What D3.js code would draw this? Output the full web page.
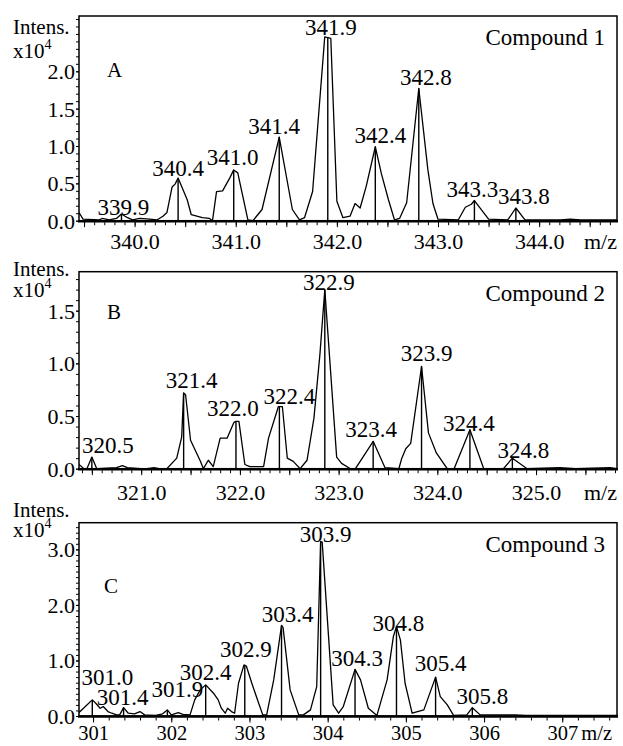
<!DOCTYPE html>
<html>
<head>
<meta charset="utf-8">
<script src="https://cdn.jsdelivr.net/npm/d3@7"></script>
<style>
  body { margin: 0; background: #fff; }
  svg text { font-family: "Liberation Serif", "Times New Roman", serif; fill: #000; }
</style>
</head>
<body>
<svg id="chart" width="623" height="746"></svg>
<script>
// ====================================
// Données
// ====================================

// Compound 1 : profil [m/z, intensité x10^4]
const traceA = [
  [339.45,0.11],[339.49,0.02],[339.65,0.01],[339.68,0.03],[339.75,0.01],[339.82,0.03],
  [339.87,0.09],[339.93,0.04],[339.98,0.01],[340.05,0.03],[340.15,0.02],[340.22,0.01],
  [340.28,0.06],[340.32,0.11],[340.37,0.45],[340.40,0.49],[340.43,0.57],[340.52,0.28],
  [340.56,0.08],[340.67,0.04],[340.74,0.03],[340.77,0.00],[340.81,0.39],[340.87,0.40],
  [340.94,0.57],[340.98,0.68],[341.02,0.64],[341.12,0.01],[341.17,0.00],[341.26,0.15],
  [341.43,1.12],[341.56,0.15],[341.63,0.01],[341.68,0.04],[341.76,0.39],[341.88,2.46],
  [341.94,2.44],[342.00,0.26],[342.06,0.04],[342.13,0.06],[342.18,0.23],[342.23,0.17],
  [342.29,0.46],[342.38,0.99],[342.44,0.63],[342.51,0.28],[342.57,0.01],[342.62,0.03],
  [342.69,0.24],[342.81,1.77],[342.90,0.68],[342.95,0.23],[343.00,0.02],[343.20,0.01],
  [343.27,0.18],[343.33,0.22],[343.36,0.27],[343.50,0.02],[343.69,0.01],[343.77,0.17],
  [343.86,0.01],[344.21,0.01],[344.31,0.02],[344.41,0.01],[344.77,0.01]
];
// pics annotés [m/z, intensité, étiquette]
const peaksA = [
  [339.87,0.09,"339.9"],[340.43,0.57,"340.4"],[340.98,0.68,"341.0"],[341.43,1.12,"341.4"],
  [341.91,2.46,"341.9"],[342.38,0.99,"342.4"],[342.81,1.77,"342.8"],[343.36,0.27,"343.3"],
  [343.77,0.17,"343.8"]
];
const xDomainA = [339.45, 344.77];
const yMaxA = 2.74;
const xTicksA = [340, 341, 342, 343, 344];
const yTicksA = [0, 0.5, 1.0, 1.5, 2.0];

// Compound 2
const traceB = [
  [320.37,0.04],[320.42,0.00],[320.45,0.00],[320.50,0.11],[320.55,0.00],[320.75,0.01],
  [320.81,0.03],[320.86,0.01],[320.99,0.00],[321.06,0.00],[321.13,0.01],[321.18,0.00],
  [321.26,0.00],[321.36,0.10],[321.41,0.30],[321.43,0.72],[321.45,0.70],[321.50,0.27],
  [321.60,0.07],[321.63,0.00],[321.68,0.08],[321.73,0.02],[321.80,0.29],[321.87,0.29],
  [321.94,0.44],[321.96,0.45],[321.99,0.45],[322.05,0.04],[322.10,0.02],[322.24,0.02],
  [322.29,0.29],[322.39,0.59],[322.43,0.59],[322.48,0.10],[322.54,0.07],[322.61,0.00],
  [322.68,0.08],[322.75,0.48],[322.81,1.08],[322.86,1.70],[322.98,0.11],[323.03,0.05],
  [323.12,0.00],[323.17,0.00],[323.24,0.10],[323.35,0.26],[323.47,0.01],[323.61,0.00],
  [323.64,0.10],[323.68,0.19],[323.73,0.24],[323.84,0.97],[323.91,0.34],[323.99,0.15],
  [324.10,0.00],[324.17,0.00],[324.33,0.37],[324.47,0.00],[324.67,0.00],[324.76,0.10],
  [324.91,0.00],[325.24,0.01],[325.40,0.00],[325.75,0.01],[325.82,0.00]
];
const peaksB = [
  [320.50,0.11,"320.5"],[321.43,0.72,"321.4"],[321.96,0.45,"322.0"],[322.40,0.59,"322.4"],
  [322.86,1.70,"322.9"],[323.35,0.26,"323.4"],[323.84,0.97,"323.9"],[324.33,0.37,"324.4"],
  [324.76,0.10,"324.8"]
];
const xDomainB = [320.37, 325.82];
const yMaxB = 1.87;
const xTicksB = [321, 322, 323, 324, 325];
const yTicksB = [0, 0.5, 1.0, 1.5];

// Compound 3
const traceC = [
  [300.81,0.05],[300.99,0.29],[301.04,0.22],[301.09,0.14],[301.13,0.17],[301.19,0.08],
  [301.24,0.05],[301.30,0.02],[301.34,0.02],[301.39,0.15],[301.45,0.05],[301.53,0.04],
  [301.60,0.08],[301.66,0.02],[301.80,0.01],[301.89,0.04],[301.95,0.11],[302.00,0.02],
  [302.09,0.06],[302.15,0.03],[302.24,0.02],[302.30,0.29],[302.37,0.47],[302.44,0.56],
  [302.54,0.41],[302.60,0.29],[302.64,0.14],[302.69,0.05],[302.72,0.14],[302.77,0.08],
  [302.81,0.05],[302.86,0.59],[302.93,0.92],[302.96,0.90],[303.03,0.59],[303.11,0.26],
  [303.17,0.02],[303.22,0.02],[303.31,0.65],[303.41,1.63],[303.43,1.59],[303.52,0.47],
  [303.63,0.02],[303.69,0.02],[303.78,0.11],[303.86,0.53],[303.91,3.14],[303.93,3.13],
  [304.07,0.20],[304.14,0.05],[304.20,0.17],[304.35,0.84],[304.42,0.65],[304.52,0.14],
  [304.63,0.01],[304.76,0.65],[304.84,1.43],[304.88,1.61],[304.93,1.37],[304.99,0.59],
  [305.08,0.05],[305.23,0.11],[305.38,0.70],[305.44,0.35],[305.53,0.20],[305.61,0.01],
  [305.78,0.02],[305.85,0.15],[305.95,0.02],[306.40,0.02],[306.53,0.01],[307.70,0.01]
];
const peaksC = [
  [300.99,0.29,"301.0"],[301.39,0.15,"301.4"],[301.95,0.11,"301.9"],[302.44,0.56,"302.4"],
  [302.94,0.92,"302.9"],[303.41,1.63,"303.4"],[303.91,3.14,"303.9"],[304.35,0.84,"304.3"],
  [304.88,1.61,"304.8"],[305.38,0.70,"305.4"],[305.85,0.15,"305.8"]
];
const xDomainC = [300.82, 307.70];
const yMaxC = 3.48;
const xTicksC = [301, 302, 303, 304, 305, 306, 307];
const yTicksC = [0, 1.0, 2.0, 3.0];

// ====================================
// Mise en page
// ====================================
const LEFT = 79, RIGHT = 617;

// décalages des étiquettes de pics [dx, dy] en pixels
const labelShiftA = [[2,1],[0,-2],[-1,-5],[-5,-3],[3,-2],[5,-4],[7,-3],[-2,-4],[8,-4]];
const labelShiftB = [[16,-4],[8,-5],[-3,-5],[10,-3],[4,0],[-2,-4],[5,-6],[-1,1],[11,0]];
const labelShiftC = [[15,-15],[-1,-3],[10,-13],[0,-5],[1,-8],[6,-3],[5,0],[2,-3],[2,4],[5,-6],[10,-4]];

const panels = [
  { letter: "A", compound: "Compound 1", trace: traceA, peaks: peaksA, shifts: labelShiftA,
    xDomain: xDomainA, yMax: yMaxA, xTicks: xTicksA, yTicks: yTicksA,
    xMinor: 0.1, xFormat: d3.format(".1f"), xFont: 22, xLabelY: 27,
    top: 16, bottom: 220.7, letterPos: [107, 77], intensY: 34, expY: 58, mzRight: 617 },
  { letter: "B", compound: "Compound 2", trace: traceB, peaks: peaksB, shifts: labelShiftB,
    xDomain: xDomainB, yMax: yMaxB, xTicks: xTicksB, yTicks: yTicksB,
    xMinor: 0.1, xFormat: d3.format(".1f"), xFont: 22, xLabelY: 30,
    top: 271.7, bottom: 468.7, letterPos: [107, 319], intensY: 275.5, expY: 296.5, mzRight: 617 },
  { letter: "C", compound: "Compound 3", trace: traceC, peaks: peaksC, shifts: labelShiftC,
    xDomain: xDomainC, yMax: yMaxC, xTicks: xTicksC, yTicks: yTicksC,
    xMinor: 0.2, xFormat: d3.format("d"), xFont: 20.5, xLabelY: 22,
    top: 522.7, bottom: 716, letterPos: [104, 593], intensY: 516.5, expY: 537, mzRight: 612 }
];

const svg = d3.select("#chart");

/**
 * Valeurs de graduation régulières sur un domaine
 */
function stepTicks(domain, step) {
    const k0 = Math.ceil(domain[0] / step - 1e-9);
    const k1 = Math.floor(domain[1] / step + 1e-9);
    return d3.range(k0, k1 + 1).map(k => +(k * step).toFixed(3));
}

function drawPanel(p) {
    const x = d3.scaleLinear().domain(p.xDomain).range([LEFT, RIGHT]);
    const y = d3.scaleLinear().domain([0, p.yMax]).range([p.bottom, p.top]);
    const g = svg.append("g").attr("class", "panel-" + p.letter);

    const clipId = "clip-" + p.letter;
    g.append("clipPath").attr("id", clipId)
        .append("rect")
        .attr("x", LEFT).attr("y", p.top)
        .attr("width", RIGHT - LEFT).attr("height", p.bottom - p.top);

    // profil du spectre
    const line = d3.line().x(d => x(d[0])).y(d => y(d[1]));
    g.append("path")
        .datum(p.trace)
        .attr("clip-path", `url(#${clipId})`)
        .attr("fill", "none")
        .attr("stroke", "#000")
        .attr("stroke-width", 1.3)
        .attr("stroke-linejoin", "round")
        .attr("d", line);

    // bâtons des pics
    g.selectAll("line.stick")
        .data(p.peaks)
        .join("line")
        .attr("class", "stick")
        .attr("x1", d => x(d[0])).attr("x2", d => x(d[0]))
        .attr("y1", y(0)).attr("y2", d => y(d[1]))
        .attr("stroke", "#000")
        .attr("stroke-width", 1.4);

    // étiquettes des pics
    g.selectAll("text.peak-label")
        .data(p.peaks)
        .join("text")
        .attr("class", "peak-label")
        .attr("x", (d, i) => x(d[0]) + p.shifts[i][0])
        .attr("y", (d, i) => y(d[1]) + p.shifts[i][1])
        .attr("text-anchor", "middle")
        .style("font-size", "23px")
        .text(d => d[2]);

    // cadre
    g.append("rect")
        .attr("x", LEFT).attr("y", p.top)
        .attr("width", RIGHT - LEFT).attr("height", p.bottom - p.top)
        .attr("fill", "none")
        .attr("stroke", "#000")
        .attr("stroke-width", 1.5);
    g.append("line")
        .attr("x1", LEFT - 1).attr("x2", RIGHT + 1)
        .attr("y1", p.bottom + 0.5).attr("y2", p.bottom + 0.5)
        .attr("stroke", "#000")
        .attr("stroke-width", 2.5);

    // axe des x : graduations mineures puis majeures
    const minorX = stepTicks(p.xDomain, p.xMinor);
    const xMinorAxis = g.append("g")
        .attr("transform", `translate(0,${p.bottom + 1.5})`)
        .call(d3.axisBottom(x).tickValues(minorX).tickSize(3).tickFormat(""));
    const midX = p.xMinor < 0.15 ? stepTicks(p.xDomain, 0.5) : p.xTicks;
    const xMajorAxis = g.append("g")
        .attr("transform", `translate(0,${p.bottom + 1.5})`)
        .call(d3.axisBottom(x).tickValues(midX).tickSize(5)
            .tickFormat(d => p.xTicks.includes(d) ? p.xFormat(d) : ""));
    [xMinorAxis, xMajorAxis].forEach(a => {
        a.select(".domain").remove();
        a.selectAll(".tick line").attr("stroke", "#000").attr("stroke-width", 1);
    });
    xMajorAxis.selectAll(".tick text")
        .attr("y", p.xLabelY).attr("dy", null)
        .attr("fill", "#000")
        .style("font-size", p.xFont + "px")
        .style("font-family", "'Liberation Serif', serif");

    // axe des y
    const minorY = stepTicks([0, p.yMax], 0.1);
    const yMinorAxis = g.append("g")
        .attr("transform", `translate(${LEFT},0)`)
        .call(d3.axisLeft(y).tickValues(minorY).tickSize(3).tickFormat(""));
    const yMajorAxis = g.append("g")
        .attr("transform", `translate(${LEFT},0)`)
        .call(d3.axisLeft(y).tickValues(p.yTicks).tickSize(3).tickPadding(1)
            .tickFormat(d3.format(".1f")));
    [yMinorAxis, yMajorAxis].forEach(a => {
        a.select(".domain").remove();
        a.selectAll(".tick line").attr("stroke", "#000").attr("stroke-width", 1);
    });
    yMajorAxis.selectAll(".tick text")
        .attr("fill", "#000")
        .attr("dy", "0.34em")
        .style("font-size", "22px")
        .style("font-family", "'Liberation Serif', serif");

    // titre de l'axe des y, sur deux lignes
    const yTitle = g.append("text")
        .style("font-size", "21px");
    yTitle.append("tspan").attr("x", 13).attr("y", p.intensY).text("Intens.");
    yTitle.append("tspan").attr("x", 13).attr("y", p.expY).text("x10");
    yTitle.append("tspan").attr("dy", -9).style("font-size", "14px").text("4");

    g.append("text")
        .attr("x", p.letterPos[0]).attr("y", p.letterPos[1])
        .style("font-size", "21px")
        .text(p.letter);

    g.append("text")
        .attr("x", 605).attr("y", p.top + 29)
        .attr("text-anchor", "end")
        .style("font-size", "23px")
        .text(p.compound);

    g.append("text")
        .attr("x", p.mzRight).attr("y", p.bottom + p.xLabelY + 1.5)
        .attr("text-anchor", "end")
        .style("font-size", p.xFont + "px")
        .text("m/z");
}

panels.forEach(drawPanel);
</script>
</body>
</html>
